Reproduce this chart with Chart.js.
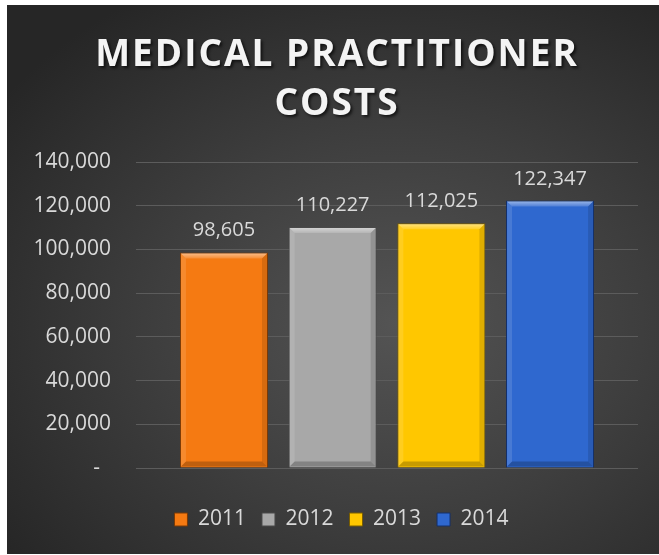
<!DOCTYPE html>
<html>
<head>
<meta charset="utf-8">
<script src="https://cdn.jsdelivr.net/npm/chart.js@4.4.1/dist/chart.umd.min.js"></script>
<style>
  html, body { margin: 0; padding: 0; background: #fff; }
  #wrap {
    position: absolute; left: 7px; top: 5px; width: 652px; height: 549px;
    background: radial-gradient(ellipse 75% 70% at 60% 58%, #545454 0%, #3e3e3e 50%, #262626 100%);
  }
</style>
</head>
<body>
<div id="wrap"><canvas id="costs"></canvas></div>
<script>
// chart data
const TITLE_LINES = ['MEDICAL PRACTITIONER', 'COSTS'];
const YEARS = ['2011', '2012', '2013', '2014'];
const COSTS = [98605, 110227, 112025, 122347];
const Y_TICKS = [0, 20000, 40000, 60000, 80000, 100000, 120000, 140000];

// fill / outline colours per year
const FILLS = ['#f57a12', '#a8a8a8', '#ffc700', '#2f68cf'];
const EDGES = ['#7a3a06', '#4a4a4a', '#7a5e00', '#14306a'];

function fmt(v){ return v.toLocaleString('en-US'); }

(function(){
    // title drawn by hand so it can get letter spacing + a shadow
    const titlePlugin = {
        id: 'bigTitle',
        afterLayout(chart){
            // legend sits a little right of the canvas centre in the original
            if(chart.legend){ chart.legend.left += 19; chart.legend.right += 19; }
        },
        beforeDraw(chart){
            const ctx = chart.ctx;
            ctx.save();
            ctx.font = 'bold 37px "Open Sans"';
            try{ ctx.letterSpacing = '2px'; }catch(e){}
            ctx.textAlign = 'center';
            ctx.textBaseline = 'alphabetic';
            ctx.fillStyle = '#f4f4f4';
            ctx.shadowColor = 'rgba(0,0,0,0.65)';
            ctx.shadowOffsetX = 2;
            ctx.shadowOffsetY = 2;
            ctx.shadowBlur = 3;
            TITLE_LINES.forEach((t, i) => ctx.fillText(t, chart.width / 2 + 4, 61 + i * 49));
            ctx.restore();
        }
    };

    // bevel look on each bar + value label above it
    const bevelPlugin = {
        id: 'bevel',
        afterDatasetsDraw(chart){
            const ctx = chart.ctx;
            chart.data.datasets.forEach((ds, di) => {
                const meta = chart.getDatasetMeta(di);
                meta.data.forEach((bar, i) => {
                    const l = bar.x - bar.width / 2, r = bar.x + bar.width / 2;
                    const t = bar.y, b = bar.base, e = 6;
                    ctx.save();
                    const top = ctx.createLinearGradient(0, t, 0, t + e);
                    top.addColorStop(0, 'rgba(255,255,255,0.55)');
                    top.addColorStop(1, 'rgba(255,255,255,0.15)');
                    ctx.fillStyle = top;
                    ctx.beginPath();
                    ctx.moveTo(l + 1, t + 1); ctx.lineTo(r - 1, t + 1); ctx.lineTo(r - e, t + e); ctx.lineTo(l + e, t + e);
                    ctx.fill();
                    ctx.fillStyle = 'rgba(255,255,255,0.12)';
                    ctx.beginPath();
                    ctx.moveTo(l + 1, t + 1); ctx.lineTo(l + e, t + e); ctx.lineTo(l + e, b - e); ctx.lineTo(l + 1, b - 1);
                    ctx.fill();
                    ctx.fillStyle = 'rgba(0,0,0,0.12)';
                    ctx.beginPath();
                    ctx.moveTo(r - 1, t + 1); ctx.lineTo(r - e, t + e); ctx.lineTo(r - e, b - e); ctx.lineTo(r - 1, b - 1);
                    ctx.fill();
                    ctx.fillStyle = 'rgba(0,0,0,0.22)';
                    ctx.beginPath();
                    ctx.moveTo(l + 1, b - 1); ctx.lineTo(r - 1, b - 1); ctx.lineTo(r - e, b - e); ctx.lineTo(l + e, b - e);
                    ctx.fill();
                    ctx.restore();

                    ctx.save();
                    ctx.font = '20px "Open Sans"';
                    ctx.fillStyle = '#d9d9d9';
                    ctx.textAlign = 'center';
                    ctx.textBaseline = 'alphabetic';
                    ctx.fillText(fmt(ds.data[i]), bar.x, t - 16);
                    ctx.restore();
                });
            });
        }
    };

    function initCostChart(){
        const canvas = document.getElementById('costs');
        if(!canvas) return;

        function create(){
            if(typeof Chart === 'undefined'){ setTimeout(create, 50); return; }

            const datasets = YEARS.map((y, i) => ({
                label: y,
                data: [COSTS[i]],
                backgroundColor: FILLS[i],
                borderColor: EDGES[i],
                borderWidth: 1,
                categoryPercentage: 0.866,
                barPercentage: 0.81
            }));

            new Chart(canvas.getContext('2d'), {
                type: 'bar',
                data: { labels: [''], datasets: datasets },
                options: {
                    responsive: true,
                    maintainAspectRatio: false,
                    animation: false,
                    layout: { padding: { top: 157, right: 21, bottom: 14, left: 0 } },
                    scales: {
                        x: {
                            ticks: { display: false },
                            grid: { display: false },
                            border: { display: false },
                            afterFit(scale){ scale.height = 25; }
                        },
                        y: {
                            min: 0,
                            max: 140000,
                            afterBuildTicks(scale){ scale.ticks = Y_TICKS.map(v => ({ value: v })); },
                            afterFit(scale){ scale.width = 129; },
                            ticks: {
                                color: '#d9d9d9',
                                padding: 25,
                                font: { family: '"Open Sans"', size: 21 },
                                callback: v => v === 0 ? '-  ' : fmt(v)
                            },
                            grid: { color: '#5c5c5c', lineWidth: 1, drawTicks: false },
                            border: { display: false }
                        }
                    },
                    plugins: {
                        legend: {
                            position: 'bottom',
                            labels: {
                                color: '#d9d9d9',
                                font: { family: '"Open Sans"', size: 21 },
                                boxWidth: 13,
                                boxHeight: 13,
                                padding: 16
                            }
                        },
                        tooltip: { enabled: false }
                    }
                },
                plugins: [titlePlugin, bevelPlugin]
            });
        }

        create();
    }

    if(document.readyState === 'loading'){
        document.addEventListener('DOMContentLoaded', initCostChart);
    } else {
        initCostChart();
    }
})();
</script>
</body>
</html>
